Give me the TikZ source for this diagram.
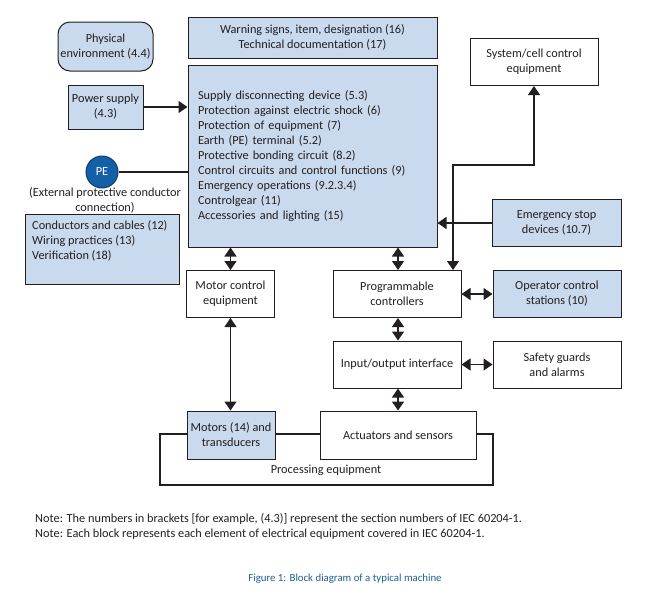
\documentclass[tikz,border=0pt]{standalone}
\usepackage{fontspec}
\setmainfont{Carlito}
\usetikzlibrary{arrows.meta}
\definecolor{boxblue}{HTML}{C9D9EE}
\definecolor{linec}{HTML}{231F20}
\definecolor{pefill}{HTML}{1460A8}
\definecolor{peline}{HTML}{0D3D6E}
\definecolor{capblue}{HTML}{1F5F8F}
\tikzset{
  box/.style={draw=linec, line width=1pt, fill=white, inner sep=2pt, align=center,
    font=\fontsize{12.3}{15}\selectfont, text=linec},
  bbox/.style={box, fill=boxblue},
  conn/.style={draw=linec, line width=1.2pt},
  arr/.style={conn, -{Triangle[width=12pt,length=9pt]}},
  dbl/.style={conn, {Triangle[width=12pt,length=9pt]}-{Triangle[width=12pt,length=9pt]}},
  plain/.style={font=\fontsize{12.3}{15}\selectfont, text=linec, align=center, inner sep=0pt},
}
\begin{document}
\begin{tikzpicture}[x=1pt,y=-1pt]
\useasboundingbox (0,0) rectangle (650,598);
% processing equipment loop (behind boxes)
\draw[conn, line width=1.1pt] (160,434) rectangle (493,485);
\node[plain] (proc) at (326,470) {Processing equipment};
% boxes
\node[bbox, rounded corners=12pt, minimum width=95pt, minimum height=49pt] (phys) at (105.5,46.5) {Physical\\environment (4.4)};
\node[bbox, minimum width=249pt, minimum height=41pt] (warn) at (312.5,37.5) {Warning signs, item, designation (16)\\Technical documentation (17)};
\node[bbox, minimum width=249pt, minimum height=182pt, text width=229pt, align=left] (main) at (312.5,156) {Supply disconnecting device (5.3)\\
Protection against electric shock (6)\\
Protection of equipment (7)\\
Earth (PE) terminal (5.2)\\
Protective bonding circuit (8.2)\\
Control circuits and control functions (9)\\
Emergency operations (9.2.3.4)\\
Controlgear (11)\\
Accessories and lighting (15)};
\node[bbox, minimum width=75pt, minimum height=44pt] (power) at (105.5,107) {Power supply\\(4.3)};
\node[circle, draw=peline, line width=1pt, fill=pefill, minimum size=32pt, inner sep=0pt, text=white, font=\fontsize{12.3}{14}\selectfont] (pe) at (102,172) {PE};
\node[plain] (ext) at (105,200) {(External protective conductor\\connection)};
\node[bbox, minimum width=154pt, minimum height=70pt] (cond) at (102,249) {};
\node[plain, anchor=north west, align=left] (condtxt) at (32,220) {Conductors and cables (12)\\Wiring practices (13)\\Verification (18)};
\node[box, minimum width=88pt, minimum height=47pt] (motorctl) at (230.5,294) {Motor control\\equipment};
\node[bbox, minimum width=88pt, minimum height=48pt] (motors) at (231,435) {Motors (14) and\\transducers};
\node[box, minimum width=156pt, minimum height=48pt] (act) at (398,435) {Actuators and sensors};
\node[box, minimum width=128pt, minimum height=47pt] (prog) at (397,294) {Programmable\\controllers};
\node[box, minimum width=128pt, minimum height=47pt] (io) at (397,364.5) {Input/output interface};
\node[bbox, minimum width=128pt, minimum height=47pt] (oper) at (557,294) {Operator control\\stations (10)};
\node[box, minimum width=128pt, minimum height=47pt] (safety) at (557,364.5) {Safety guards\\and alarms};
\node[box, minimum width=128pt, minimum height=47pt] (sys) at (534,62) {System/cell control\\equipment};
\node[bbox, minimum width=129pt, minimum height=47pt] (estop) at (556.5,223) {Emergency stop\\devices (10.7)};
% connectors
\draw[arr] (power.east) -- (power.east -| main.west);
\draw[conn] (pe.east) -- (pe.east -| main.west);
\draw[dbl] (motorctl.north |- main.south) -- (motorctl.north);
\draw[dbl] (motorctl.south) -- (motorctl.south |- motors.north);
\coordinate (pn) at (398,270);
\draw[dbl] (pn |- main.south) -- (pn);
\draw[dbl] (pn |- prog.south) -- (pn |- io.north);
\draw[dbl] (pn |- io.south) -- (pn |- act.north);
\draw[dbl] (prog.east) -- (oper.west);
\draw[dbl] (io.east) -- (safety.west);
\draw[arr] (estop.west) -- (estop.west -| main.east);
\coordinate (bend) at (453,165);
\draw[dbl] (sys.south) |- (bend) -- (bend |- prog.north);
% notes
\node[plain, anchor=west, align=left] (note1) at (35,519) {Note: The numbers in brackets [for example, (4.3)] represent the section numbers of IEC 60204-1.};
\node[plain, anchor=west, align=left] (note2) at (35,534) {Note: Each block represents each element of electrical equipment covered in IEC 60204-1.};
\node[plain, text=capblue, font=\fontsize{10.8}{12}\selectfont] (cap) at (345,579) {Figure 1: Block diagram of a typical machine};
\end{tikzpicture}
\end{document}
